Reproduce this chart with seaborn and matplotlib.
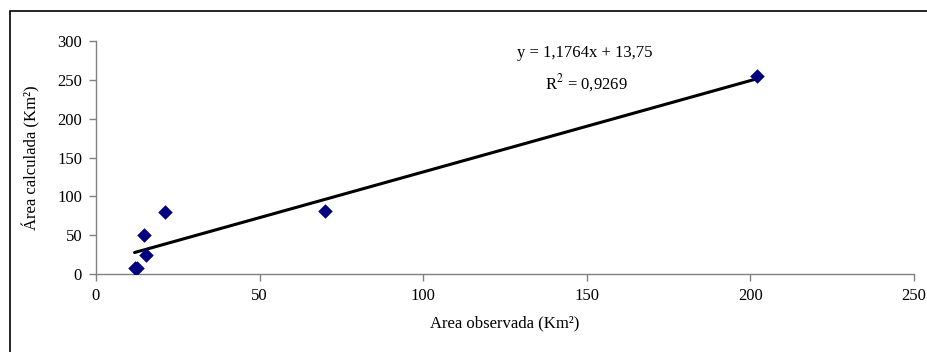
import matplotlib
matplotlib.use("Agg")
import matplotlib.pyplot as plt
import seaborn as sns
import pandas as pd
from matplotlib.patches import Rectangle

# data
area_observada = [11.8, 12.6, 14.7, 15.2, 21.1, 70.0, 202.0]
area_calculada = [7.8, 7.8, 50.0, 25.0, 80.0, 81.5, 255.0]
slope = 1.1764
intercept = 13.75
eq_text = "y = 1,1764x + 13,75"
r2_text = "R$^2$ = 0,9269"
x_ticks = [0, 50, 100, 150, 200, 250]
y_ticks = [0, 50, 100, 150, 200, 250, 300]

sns.set_style("white", {'text.color': 'black', 'axes.labelcolor': 'black',
                        'xtick.color': 'black', 'ytick.color': 'black'})
plt.rcParams['font.family'] = ['Liberation Serif', 'DejaVu Serif']
plt.rcParams['mathtext.fontset'] = 'stix'

df = pd.DataFrame({'obs': area_observada, 'calc': area_calculada})

fig = plt.figure(figsize=(9.28, 3.52), dpi=100)
ax = fig.add_axes([0.1034, 0.2216, 0.8815, 0.6619])

# trend line from the stated equation
trend = pd.DataFrame({'obs': [min(area_observada), max(area_observada)]})
trend['calc'] = slope * trend['obs'] + intercept
sns.lineplot(data=trend, x='obs', y='calc', color='black', lw=2.2, ax=ax)
sns.scatterplot(data=df, x='obs', y='calc', marker='D', s=55, color='#000080',
                edgecolor='#000080', linewidth=0, ax=ax, zorder=3)

ax.set_xlim(0, 250)
ax.set_ylim(0, 300)
ax.set_xticks(x_ticks)
ax.set_yticks(y_ticks)
ax.tick_params(axis='both', which='both', direction='out', length=5, width=1,
               color='#808080', labelcolor='black', labelsize=12,
               bottom=True, left=True, pad=5)
for side in ['top', 'right']:
    ax.spines[side].set_visible(False)
for side in ['left', 'bottom']:
    ax.spines[side].set_color('#808080')
    ax.spines[side].set_linewidth(1)

ax.set_xlabel('Area observada (Km²)', fontsize=12, labelpad=8, color='black')
ax.set_ylabel('Área calculada (Km²)', fontsize=12, labelpad=12, color='black')

fig.text(585 / 928, 1 - 53 / 352, eq_text, ha='center', va='center',
         fontsize=12, color='black')
fig.text(586 / 928, 1 - 83 / 352, r2_text, ha='center', va='center',
         fontsize=12, color='black')

fig.patches.append(Rectangle((10 / 928, -0.05), 1.1, 1 - 11 / 352 + 0.05,
                             transform=fig.transFigure, fill=False,
                             edgecolor='black', lw=1.2))

fig.savefig('out.png', dpi=100)
